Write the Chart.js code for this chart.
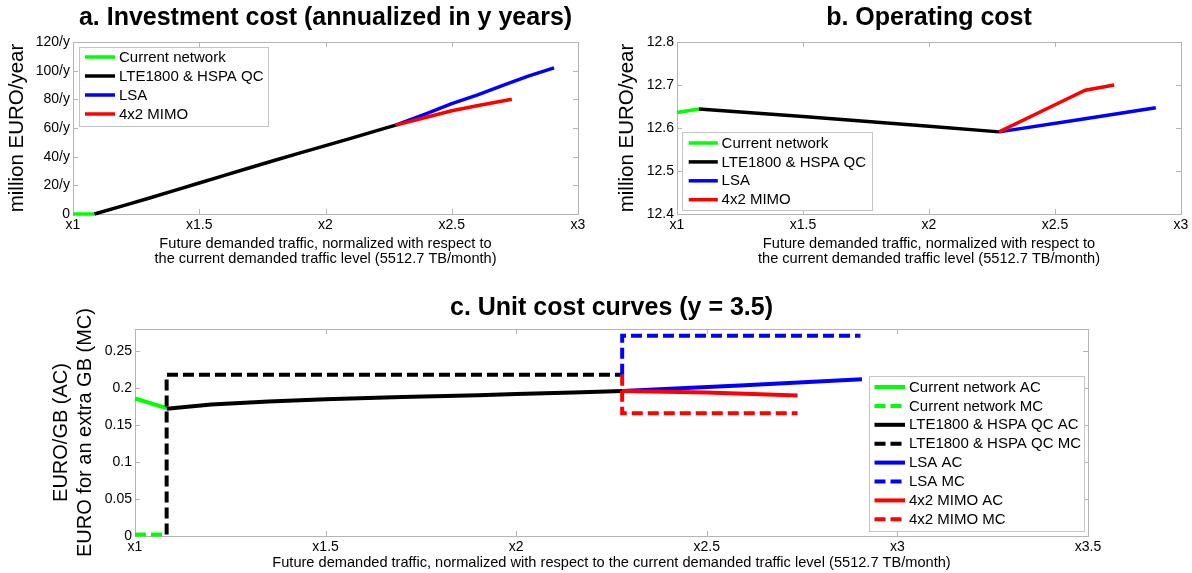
<!DOCTYPE html>
<html>
<head>
<meta charset="utf-8">
<script src="https://cdn.jsdelivr.net/npm/chart.js@4.4.0/dist/chart.umd.min.js"></script>
<style>
html, body { margin: 0; padding: 0; background: #fff; }
#wrap { position: relative; width: 1192px; height: 573px; }
.panel { position: absolute; }
</style>
</head>
<body>
<div id="wrap">
  <div class="panel" style="left:0;top:0;width:596px;height:290px"><canvas id="invChart"></canvas></div>
  <div class="panel" style="left:596px;top:0;width:596px;height:290px"><canvas id="opChart"></canvas></div>
  <div class="panel" style="left:0;top:290px;width:1192px;height:283px"><canvas id="unitChart"></canvas></div>
</div>
<script>
// ---- tick values / labels
const xTicksAB = [1, 1.5, 2, 2.5, 3];
const xLabelsAB = ["x1", "x1.5", "x2", "x2.5", "x3"];
const xTicksC = [1, 1.5, 2, 2.5, 3, 3.5];
const xLabelsC = ["x1", "x1.5", "x2", "x2.5", "x3", "x3.5"];
const yTicksInv = [0, 20, 40, 60, 80, 100, 120];
const yLabelsInv = ["0", "20/y", "40/y", "60/y", "80/y", "100/y", "120/y"];
const yTicksOp = [12.4, 12.5, 12.6, 12.7, 12.8];
const yLabelsOp = ["12.4", "12.5", "12.6", "12.7", "12.8"];
const yTicksUnit = [0, 0.05, 0.1, 0.15, 0.2, 0.25];
const yLabelsUnit = ["0", "0.05", "0.1", "0.15", "0.2", "0.25"];

// ---- a. investment cost
const invCurX = [1, 1.085];
const invCurY = [0, 0];
const invLteX = [1.085, 1.2, 1.3, 1.4, 1.5, 1.6, 1.7, 1.8, 1.9, 2.0, 2.1, 2.2, 2.278];
const invLteY = [0, 5.8, 11, 16.3, 21.6, 27, 32.3, 37.5, 42.6, 47.7, 52.8, 58, 62];
const invLsaX = [2.278, 2.4, 2.5, 2.6, 2.7, 2.8, 2.905];
const invLsaY = [62, 70, 77, 83, 89.5, 96, 102];
const invMimoX = [2.278, 2.4, 2.5, 2.6, 2.738];
const invMimoY = [62, 67.5, 72, 75.5, 80];

// ---- b. operating cost
const opCurX = [1, 1.087];
const opCurY = [12.636, 12.644];
const opLteX = [1.087, 1.5, 2.0, 2.278];
const opLteY = [12.644, 12.627, 12.604, 12.591];
const opLsaX = [2.278, 2.6, 2.9];
const opLsaY = [12.591, 12.62, 12.647];
const opMimoX = [2.278, 2.5, 2.62, 2.735];
const opMimoY = [12.591, 12.654, 12.688, 12.7];

// ---- c. unit cost curves
const ucCurAcX = [1, 1.083];
const ucCurAcY = [0.186, 0.173];
const ucCurMcX = [1, 1.083];
const ucCurMcY = [0.002, 0.002];
const ucLteAcX = [1.083, 1.2, 1.35, 1.5, 1.7, 1.9, 2.0, 2.15, 2.278];
const ucLteAcY = [0.172, 0.178, 0.182, 0.185, 0.188, 0.1905, 0.192, 0.194, 0.196];
const ucLteMcX = [1.083, 1.083, 2.278];
const ucLteMcY = [0.002, 0.218, 0.218];
const ucLsaAcX = [2.278, 2.6, 2.907];
const ucLsaAcY = [0.196, 0.204, 0.212];
const ucLsaMcX = [2.278, 2.278, 2.903];
const ucLsaMcY = [0.218, 0.271, 0.271];
const ucMimoAcX = [2.278, 2.5, 2.62, 2.738];
const ucMimoAcY = [0.196, 0.194, 0.192, 0.19];
const ucMimoMcX = [2.278, 2.278, 2.738];
const ucMimoMcY = [0.218, 0.166, 0.166];

const FONT = "'Liberation Sans', Arial, sans-serif";
Chart.defaults.font.family = FONT;
Chart.defaults.color = "#000";

const GREEN = "#00ff00", BLACK = "#000000", BLUE = "#0000ff", RED = "#ff0000";
const DASH = [11, 5];

function series(label, xs, ys, color, width, dash) {
    return {
        label: label,
        data: xs.map((x, i) => ({ x: x, y: ys[i] })),
        borderColor: color,
        backgroundColor: color,
        borderWidth: width,
        borderDash: dash || [],
        pointRadius: 0,
        tension: 0,
        fill: false,
        clip: false
    };
}

// grey axes box with inward tick marks (matlab look)
const framePlugin = {
    id: "frame",
    beforeDatasetsDraw(chart, args, opts) {
        const ctx = chart.ctx;
        const a = chart.chartArea;
        const xs = chart.scales.x, ys = chart.scales.y;
        const len = opts.len || 5;
        ctx.save();
        ctx.strokeStyle = opts.color || "#b4b4b4";
        ctx.lineWidth = 1;
        ctx.beginPath();
        xs.ticks.forEach(t => {
            const p = Math.round(xs.getPixelForValue(t.value)) + 0.5;
            ctx.moveTo(p, a.top); ctx.lineTo(p, a.top + len);
            ctx.moveTo(p, a.bottom); ctx.lineTo(p, a.bottom - len);
        });
        ys.ticks.forEach(t => {
            const p = Math.round(ys.getPixelForValue(t.value)) + 0.5;
            ctx.moveTo(a.left, p); ctx.lineTo(a.left + len, p);
            ctx.moveTo(a.right, p); ctx.lineTo(a.right - len, p);
        });
        ctx.stroke();
        ctx.strokeRect(Math.round(a.left) + 0.5, Math.round(a.top) + 0.5,
            Math.round(a.width), Math.round(a.height));
        ctx.restore();
    }
};

const headPlugin = {
    id: "head",
    afterDraw(chart, args, opts) {
        const ctx = chart.ctx;
        const a = chart.chartArea;
        ctx.save();
        ctx.font = "bold 25px " + FONT;
        ctx.fillStyle = "#000";
        ctx.textAlign = "center";
        ctx.textBaseline = "middle";
        ctx.fillText(opts.text, (a.left + a.right) / 2, opts.y);
        ctx.restore();
    }
};

const boxLegendPlugin = {
    id: "boxLegend",
    afterDatasetsDraw(chart, args, opts) {
        const ctx = chart.ctx;
        ctx.save();
        ctx.fillStyle = "#fff";
        ctx.fillRect(opts.left, opts.top, opts.width, opts.height);
        ctx.strokeStyle = "#c4c4c4";
        ctx.lineWidth = 1;
        ctx.strokeRect(opts.left + 0.5, opts.top + 0.5, opts.width, opts.height);
        ctx.font = "15px " + FONT;
        ctx.textBaseline = "middle";
        ctx.textAlign = "left";
        chart.data.datasets.forEach((ds, i) => {
            const yy = opts.top + opts.first + i * opts.gap;
            ctx.beginPath();
            ctx.strokeStyle = ds.borderColor;
            ctx.lineWidth = opts.lineWidth;
            ctx.setLineDash(ds.borderDash || []);
            ctx.moveTo(opts.left + opts.s1, yy);
            ctx.lineTo(opts.left + opts.s2, yy);
            ctx.stroke();
            ctx.setLineDash([]);
            ctx.fillStyle = "#000";
            ctx.fillText(ds.label, opts.left + opts.tx, yy + 0.5);
        });
        ctx.restore();
    }
};

function makeChart(id, datasets, o) {
    datasets.forEach((d, i) => { d.order = datasets.length - i; });
    return new Chart(document.getElementById(id).getContext("2d"), {
        type: "line",
        data: { datasets: datasets },
        plugins: [framePlugin, headPlugin, boxLegendPlugin],
        options: {
            responsive: true,
            maintainAspectRatio: false,
            animation: false,
            layout: { padding: { left: 0, top: o.top, right: o.right, bottom: 0 } },
            plugins: {
                legend: { display: false },
                tooltip: { enabled: false },
                frame: { len: 5, color: "#b4b4b4" },
                head: { text: o.title, y: 18 },
                boxLegend: o.legend
            },
            scales: {
                x: {
                    type: "linear",
                    min: o.xTicks[0],
                    max: o.xTicks[o.xTicks.length - 1],
                    afterBuildTicks: s => { s.ticks = o.xTicks.map(v => ({ value: v })); },
                    afterFit: s => { s.height = o.xHeight; },
                    grid: { display: false, drawTicks: false },
                    border: { display: false },
                    ticks: {
                        autoSkip: false, maxRotation: 0, padding: 3,
                        font: { size: 14 },
                        callback: (v, i) => o.xLabels[i]
                    },
                    title: {
                        display: true, text: o.xTitle,
                        font: { size: 14.6, lineHeight: 1.04 },
                        padding: { top: 0, bottom: o.xTitlePad }
                    }
                },
                y: {
                    type: "linear",
                    min: o.yMin,
                    max: o.yMax,
                    afterBuildTicks: s => { s.ticks = o.yTicks.map(v => ({ value: v })); },
                    afterFit: s => { s.width = o.yWidth; },
                    grid: { display: false, drawTicks: false },
                    border: { display: false },
                    ticks: {
                        autoSkip: false, padding: 3,
                        font: { size: 14 },
                        callback: (v, i) => o.yLabels[i]
                    },
                    title: {
                        display: true, text: o.yTitle,
                        font: { size: o.yTitleSize, lineHeight: o.yTitleLH },
                        padding: { top: o.yTitlePad, bottom: 0 }
                    }
                }
            }
        }
    });
}

const xTitle2 = ["Future demanded traffic, normalized with respect to",
                 "the current demanded traffic level (5512.7 TB/month)"];

makeChart("invChart", [
    series("Current network", invCurX, invCurY, GREEN, 3.5),
    series("LTE1800 & HSPA QC", invLteX, invLteY, BLACK, 3.5),
    series("LSA", invLsaX, invLsaY, BLUE, 3.5),
    series("4x2 MIMO", invMimoX, invMimoY, RED, 3.5)
], {
    title: "a. Investment cost (annualized in y years)",
    top: 42, right: 18, xHeight: 76, yWidth: 73,
    xTicks: xTicksAB, xLabels: xLabelsAB, xTitle: xTitle2, xTitlePad: 23,
    yMin: 0, yMax: 120, yTicks: yTicksInv, yLabels: yLabelsInv,
    yTitle: "million EURO/year", yTitleSize: 20.5, yTitleLH: 1.2, yTitlePad: 4.7,
    legend: { left: 79, top: 47, width: 189, height: 79, first: 10, gap: 19,
              s1: 6, s2: 36, tx: 40, lineWidth: 3.5 }
});

makeChart("opChart", [
    series("Current network", opCurX, opCurY, GREEN, 3.5),
    series("LTE1800 & HSPA QC", opLteX, opLteY, BLACK, 3.5),
    series("LSA", opLsaX, opLsaY, BLUE, 3.5),
    series("4x2 MIMO", opMimoX, opMimoY, RED, 3.5)
], {
    title: "b. Operating cost",
    top: 42, right: 11, xHeight: 76, yWidth: 81,
    xTicks: xTicksAB, xLabels: xLabelsAB, xTitle: xTitle2, xTitlePad: 23,
    yMin: 12.4, yMax: 12.8, yTicks: yTicksOp, yLabels: yLabelsOp,
    yTitle: "million EURO/year", yTitleSize: 20.5, yTitleLH: 1.2, yTitlePad: 18.7,
    legend: { left: 86, top: 132, width: 190, height: 78, first: 11, gap: 18.9,
              s1: 6.7, s2: 35.8, tx: 39.6, lineWidth: 3.5 }
});

makeChart("unitChart", [
    series("Current network AC", ucCurAcX, ucCurAcY, GREEN, 4),
    series("Current network MC", ucCurMcX, ucCurMcY, GREEN, 4, DASH),
    series("LTE1800 & HSPA QC AC", ucLteAcX, ucLteAcY, BLACK, 4),
    series("LTE1800 & HSPA QC MC", ucLteMcX, ucLteMcY, BLACK, 4, DASH),
    series("LSA AC", ucLsaAcX, ucLsaAcY, BLUE, 4),
    series("LSA MC", ucLsaMcX, ucLsaMcY, BLUE, 4, DASH),
    series("4x2 MIMO AC", ucMimoAcX, ucMimoAcY, RED, 4),
    series("4x2 MIMO MC", ucMimoMcX, ucMimoMcY, RED, 4, DASH)
], {
    title: "c. Unit cost curves (y = 3.5)",
    top: 39, right: 104, xHeight: 37, yWidth: 135,
    xTicks: xTicksC, xLabels: xLabelsC,
    xTitle: "Future demanded traffic, normalized with respect to the current demanded traffic level (5512.7 TB/month)",
    xTitlePad: 2.4,
    yMin: 0, yMax: 0.28, yTicks: yTicksUnit, yLabels: yLabelsUnit,
    yTitle: ["EURO/GB (AC)", "EURO for an extra GB (MC)"], yTitleSize: 20, yTitleLH: 1.2, yTitlePad: 49,
    legend: { left: 869, top: 86, width: 215, height: 155, first: 11, gap: 18.9,
              s1: 5.5, s2: 36, tx: 40, lineWidth: 4 }
});
</script>
</body>
</html>
